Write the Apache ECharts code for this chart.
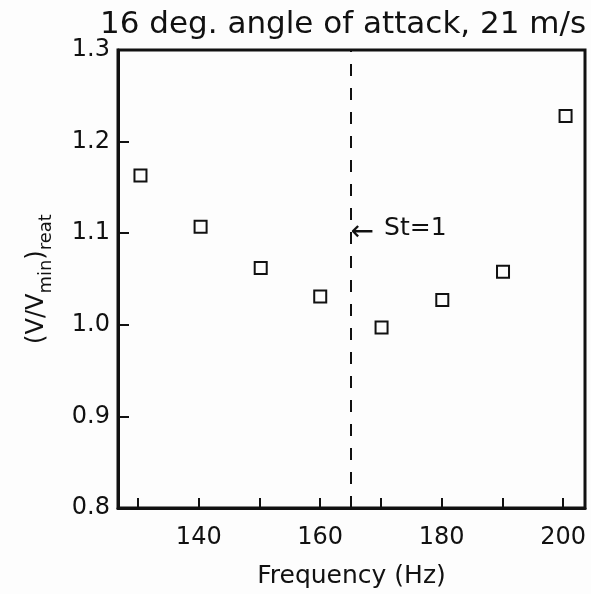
<!DOCTYPE html>
<html>
<head>
<meta charset="utf-8">
<script src="https://cdn.jsdelivr.net/npm/echarts@6/dist/echarts.min.js"></script>
<style>
html,body{margin:0;padding:0;background:#fdfdfd;}
#chart{width:591px;height:594px;}
</style>
</head>
<body>
<div id="chart"></div>
<script>
// Data
var frequency = [130.4, 140.3, 150.2, 160.0, 170.1, 180.1, 190.1, 200.4];
var velocityRatio = [1.163, 1.107, 1.062, 1.031, 0.997, 1.027, 1.058, 1.228];
var strouhalFreq = 165;
var strouhalY = 1.1;
var strouhalLabel = 'St=1';
var xTicks = [130, 140, 150, 160, 170, 180, 190, 200];
var xTickLabels = [140, 160, 180, 200];
var yTicks = [0.8, 0.9, 1.0, 1.1, 1.2, 1.3];
var titleText = '16 deg. angle of attack, 21 m/s';
var xName = 'Frequency (Hz)';

var FONT = 'DejaVu Sans';
var chart = echarts.init(document.getElementById('chart'), null, {renderer: 'canvas'});
var points = frequency.map(function (f, i) { return [f, velocityRatio[i]]; });

chart.setOption({
  backgroundColor: '#fdfdfd',
  animation: false,
  title: {
    text: titleText,
    left: 95,
    top: 4,
    textStyle: {fontFamily: FONT, fontSize: 31, fontWeight: 'normal', color: '#111'}
  },
  grid: {left: 118, top: 50, right: 6, bottom: 82, containLabel: false,
    show: true, borderColor: '#111', borderWidth: 3, backgroundColor: 'transparent'},
  xAxis: {
    type: 'value',
    min: 126.7,
    max: 203.6,
    name: xName,
    nameLocation: 'middle',
    nameGap: 56,
    nameTextStyle: {fontFamily: FONT, fontSize: 25, color: '#111'},
    axisLine: {show: true, lineStyle: {color: '#111', width: 3}},
    axisTick: {show: true, inside: true, length: 10, lineStyle: {color: '#111', width: 2}, customValues: xTicks},
    axisLabel: {customValues: xTickLabels, margin: 18, fontFamily: FONT, fontSize: 24, color: '#111'},
    splitLine: {show: false}
  },
  yAxis: {
    type: 'value',
    min: 0.8,
    max: 1.3,
    interval: 0.1,
    name: '{p|(V/V}{s|min}{p|)}{s|reat}',
    nameLocation: 'middle',
    nameRotate: 90,
    nameGap: 63,
    nameTextStyle: {
      fontFamily: FONT, color: '#111',
      rich: {
        p: {fontFamily: FONT, fontSize: 24, color: '#111', verticalAlign: 'bottom', padding: [0, 0, 6, 0]},
        s: {fontFamily: FONT, fontSize: 18, color: '#111', verticalAlign: 'bottom'}
      }
    },
    axisLine: {show: true, lineStyle: {color: '#111', width: 3}},
    axisTick: {show: true, inside: true, length: 11, lineStyle: {color: '#111', width: 2}},
    axisLabel: {margin: 8, fontFamily: FONT, fontSize: 24, color: '#111',
      formatter: function (v) { return v.toFixed(1); }},
    splitLine: {show: false}
  },
  series: [{
    type: 'scatter',
    data: points,
    symbol: 'rect',
    symbolSize: 12,
    itemStyle: {color: '#fdfdfd', borderColor: '#111', borderWidth: 2, opacity: 1},
    markLine: {
      silent: true,
      symbol: 'none',
      lineStyle: {type: [12, 12], color: '#111', width: 2},
      label: {show: false},
      data: [{xAxis: strouhalFreq}]
    },
    markPoint: {
      symbol: 'circle',
      symbolSize: 0,
      data: [{coord: [strouhalFreq, strouhalY]}],
      label: {
        show: true,
        position: 'right',
        distance: 0,
        formatter: '{a|\u2190}{t|' + strouhalLabel + '}',
        rich: {
          a: {fontFamily: FONT, fontSize: 28, color: '#111', padding: [0, 10, 0, 0]},
          t: {fontFamily: FONT, fontSize: 25, color: '#111', padding: [0, 0, 10, 0]}
        }
      }
    }
  }]
});
</script>
</body>
</html>
